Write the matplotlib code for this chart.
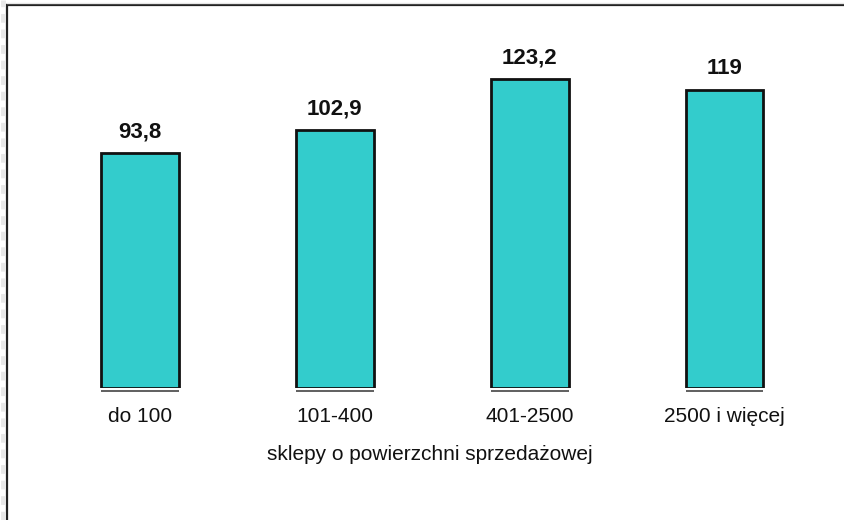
import matplotlib
matplotlib.use("Agg")
import matplotlib.pyplot as plt
from matplotlib.lines import Line2D

categories = ["do 100", "101-400", "401-2500", "2500 i więcej"]
values = [93.8, 102.9, 123.2, 119]
value_labels = ["93,8", "102,9", "123,2", "119"]
x_label = "sklepy o powierzchni sprzedażowej"

W, H = 844, 520
fig = plt.figure(figsize=(W / 100, H / 100), dpi=100)
fig.patch.set_facecolor("white")

# axes placed in pixel units: x from 42.6 to 821.9, baseline at 388 px from top
left, right = 42.6, 821.9
base, top = 388, 37.3
ax = fig.add_axes([left / W, (H - base) / H, (right - left) / W, (base - top) / H])
ax.set_xlim(-0.5, len(categories) - 0.5)
ax.set_ylim(0, 140)
ax.axis("off")

plt.rcParams["font.family"] = ["Liberation Sans", "DejaVu Sans"]

pos = list(range(len(categories)))
bw = 0.40
ax.bar(pos, values, width=bw, color="#33CCCC", edgecolor="#111111",
       linewidth=2.0, zorder=2)

for p, v, lab, cat in zip(pos, values, value_labels, categories):
    # short baseline segment under each bar
    ax.plot([p - bw / 2, p + bw / 2], [-1.0, -1.0], color="#444444",
            linewidth=1.2, solid_capstyle="butt", clip_on=False, zorder=1)
    ax.annotate(lab, (p, v), xytext=(0, 16), textcoords="offset pixels",
                ha="center", va="baseline", fontsize=16, fontweight="bold",
                color="#111111")
    ax.annotate(cat, (p, 0), xytext=(0, -34), textcoords="offset pixels",
                ha="center", va="baseline", fontsize=15, color="#111111",
                annotation_clip=False)

fig.text((left + right) / 2 / W - 0.003, 1 - 454 / H, x_label, ha="center",
         va="center", fontsize=15, color="#111111")

# outer frame: top and left edges
fig.add_artist(Line2D([7 / W, 1], [1 - 5 / H, 1 - 5 / H], color="#222222",
                      linewidth=1.6, transform=fig.transFigure))
fig.add_artist(Line2D([7 / W, 7 / W], [0, 1 - 5 / H], color="#222222",
                      linewidth=1.6, transform=fig.transFigure))
fig.add_artist(Line2D([7 / W, 1], [1 - 3 / H, 1 - 3 / H], color="#e6e6e6",
                      linewidth=1.0, transform=fig.transFigure))
fig.add_artist(Line2D([3 / W, 3 / W], [0, 1], color="#e8e8e8", linewidth=3.5,
                      linestyle=(0, (1.8, 1.4)), transform=fig.transFigure))

fig.savefig("out.png", dpi=100)
